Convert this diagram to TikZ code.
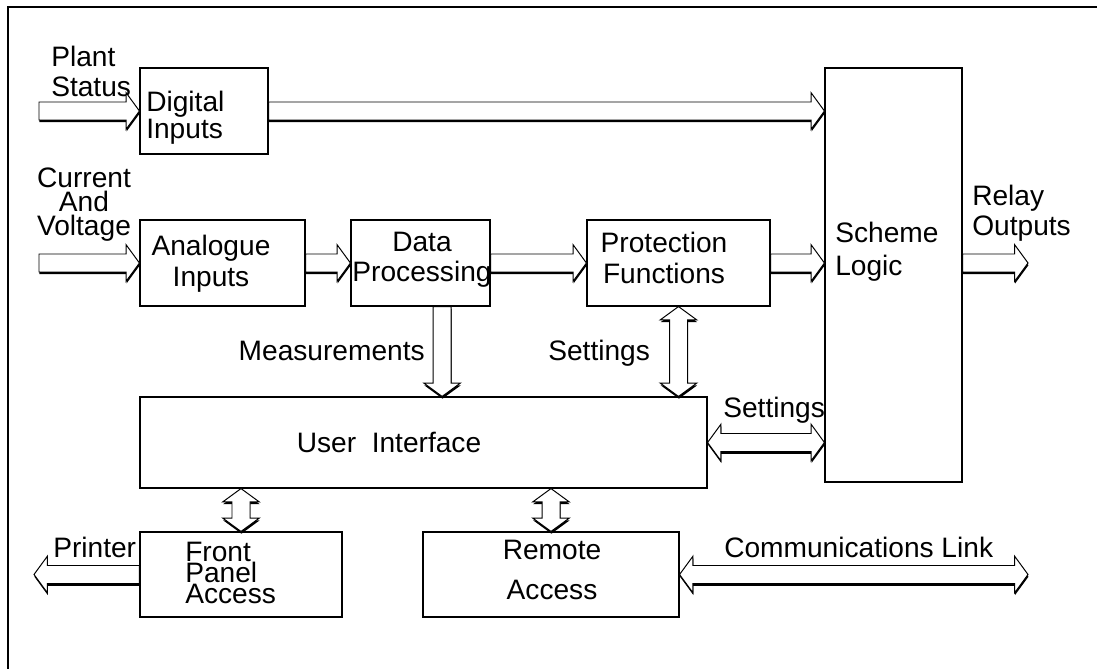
\documentclass[tikz,border=0pt]{standalone}
\usepackage{fontspec}
\setmainfont{Liberation Sans}
\usetikzlibrary{calc,shadows}
\def\shaftw{6.4pt}
\def\headw{13pt}
\def\headl{9.5pt}
\tikzset{
  blk/.style 2 args={rectangle, draw, line width=0.8pt, fill=white, inner sep=0pt,
               minimum width=#1*0.025cm, minimum height=#2*0.025cm,
               drop shadow={shadow xshift=0pt, shadow yshift=-0.8pt, opacity=1, fill=black}},
  txt/.style ={inner sep=0pt, align=left, font=\fontsize{20}{#1}\selectfont},
  fat/.style ={draw, line width=0.7pt, fill=white, line join=miter,
               drop shadow={shadow xshift=0.3pt, shadow yshift=-1.6pt, opacity=1, fill=black}},
  flow/.style={fat, to path={let \p1=(\tikztostart), \p2=(\tikztotarget),
               \n1={atan2(\y2-\y1,\x2-\x1)} in
               -- ($(\p1)+({\n1+90}:\shaftw)$)
               -- ($(\p2)+({\n1+180}:\headl)+({\n1+90}:\shaftw)$)
               -- ($(\p2)+({\n1+180}:\headl)+({\n1+90}:\headw)$)
               -- (\p2)
               -- ($(\p2)+({\n1+180}:\headl)+({\n1-90}:\headw)$)
               -- ($(\p2)+({\n1+180}:\headl)+({\n1-90}:\shaftw)$)
               -- ($(\p1)+({\n1-90}:\shaftw)$) -- cycle}},
  flow2/.style={fat, to path={let \p1=(\tikztostart), \p2=(\tikztotarget),
               \n1={atan2(\y2-\y1,\x2-\x1)} in
               -- ($(\p1)+(\n1:\headl)+({\n1+90}:\headw)$)
               -- ($(\p1)+(\n1:\headl)+({\n1+90}:\shaftw)$)
               -- ($(\p2)+({\n1+180}:\headl)+({\n1+90}:\shaftw)$)
               -- ($(\p2)+({\n1+180}:\headl)+({\n1+90}:\headw)$)
               -- (\p2)
               -- ($(\p2)+({\n1+180}:\headl)+({\n1-90}:\headw)$)
               -- ($(\p2)+({\n1+180}:\headl)+({\n1-90}:\shaftw)$)
               -- ($(\p1)+(\n1:\headl)+({\n1-90}:\shaftw)$)
               -- ($(\p1)+(\n1:\headl)+({\n1-90}:\headw)$) -- cycle}},
}

\begin{document}
\begin{tikzpicture}[x=0.025cm, y=-0.025cm]
\useasboundingbox (0,0) rectangle (1097,669);
% --- frame ---
\coordinate (fr-r) at (1097,7);
\coordinate (fr-c) at (8,7);
\coordinate (fr-b) at (8,669);
\draw[line width=1.2pt] (fr-r) -- (fr-c) -- (fr-b);
% --- blocks ---
\node[blk={128}{86}]  (dig) at (204,111)   {};
\node[blk={165}{86}]  (ana) at (222.5,263) {};
\node[blk={139}{86}]  (dat) at (420.5,263) {};
\node[blk={183}{86}]  (pro) at (678.5,263) {};
\node[blk={137}{414}] (sch) at (893.5,275) {};
\node[blk={567}{91}]  (ui)  at (423.5,442.5) {};
\node[blk={202}{85}]  (fpa) at (241,574.5) {};
\node[blk={256}{85}]  (rem) at (551,574.5) {};
% --- block texts ---
\node[txt=17pt, anchor=north west] (dig-t) at (146,91) {Digital\\Inputs};
\node[txt=22pt, anchor=north, align=center] (ana-t) at (211,235) {Analogue\\Inputs};
\node[txt=21.3pt, anchor=north, align=center] (dat-t) at (422,232) {Data\\Processing};
\node[txt=22pt, anchor=north, align=center] (pro-t) at (664,232) {Protection\\Functions};
\node[txt=23.5pt, anchor=north west] (sch-t) at (835,222) {Scheme\\Logic};
\node[txt=22pt, anchor=base] (ui-t) at (389,452) {User\ \ Interface};
\node[txt=15pt, anchor=north west] (fpa-t) at (185,542) {Front\\Panel\\Access};
\node[txt=28.4pt, anchor=north, align=center] (rem-t) at (552,540) {Remote\\Access};
% --- outside labels ---
\node[txt=21pt, anchor=north west] (ps-t) at (51,46) {Plant\\Status};
\node[txt=17pt, anchor=north, align=center] (cv-t) at (84,168) {Current\\And\\Voltage};
\node[txt=21.3pt, anchor=north west] (ro-t) at (972,185) {Relay\\Outputs};
\node[txt=22pt, anchor=base east] (meas-t) at (425,360) {Measurements};
\node[txt=22pt, anchor=base west] (set1-t) at (548,360) {Settings};
\node[txt=22pt, anchor=base west] (set2-t) at (723,417) {Settings};
\node[txt=22pt, anchor=base west] (prn-t) at (53,557) {Printer};
\node[txt=22pt, anchor=base west] (com-t) at (724,557) {Communications Link};
% --- free ends ---
\coordinate (ps) at (39,111);
\coordinate (cv) at (39,263);
\coordinate (ro) at (1028,263);
\coordinate (prn) at (34,574.5);
\coordinate (com) at (1028,574.5);
\coordinate (mtop) at ([xshift=0.54cm]dat.south);
% --- single arrows ---
\draw[flow] (ps) to (dig.west);
\draw[flow] (dig.east) to (dig.east -| sch.west);
\draw[flow] (cv) to (ana.west);
\draw[flow] (ana.east) to (dat.west);
\draw[flow] (dat.east) to (pro.west);
\draw[flow] (pro.east) to (pro.east -| sch.west);
\draw[flow] (sch.east |- pro.east) to (ro);
\draw[flow] (mtop) to (mtop |- ui.north);
\draw[flow] (fpa.west) to (prn);
% --- double arrows ---
\draw[flow2] (pro.south) to (pro.south |- ui.north);
\draw[flow2] (ui.east) to (ui.east -| sch.west);
\draw[flow2] (ui.south -| fpa.north) to (fpa.north);
\draw[flow2] (ui.south -| rem.north) to (rem.north);
\draw[flow2] (rem.east) to (com);
\end{tikzpicture}
\end{document}
